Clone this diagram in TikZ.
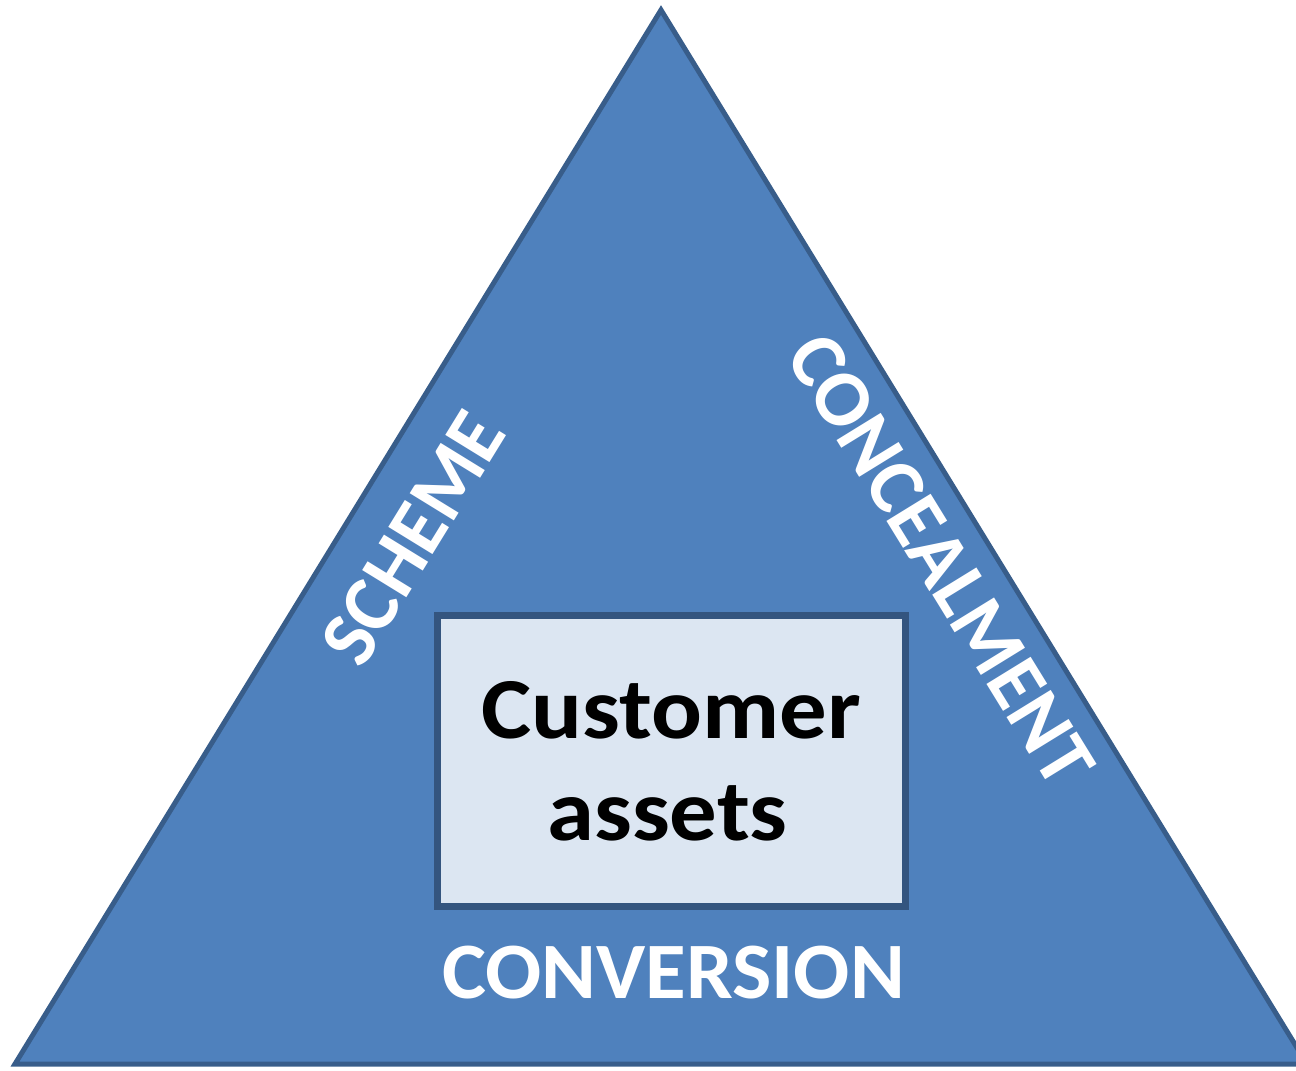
\documentclass[tikz,border=0pt]{standalone}
\usepackage{fontspec}
\setmainfont{Carlito}
\definecolor{trifill}{HTML}{4F81BD}
\definecolor{triedge}{HTML}{385D8A}
\definecolor{boxfill}{HTML}{DCE6F2}
\definecolor{boxedge}{HTML}{34557F}
\tikzset{
  sidelabel/.style={text=white, font=\fontsize{80}{96}\selectfont\bfseries, inner sep=0pt},
  boxtext/.style={text=black, font=\fontsize{87}{102}\selectfont\bfseries, inner sep=0pt, anchor=base, xscale=1.09},
  tri/.style={fill=trifill, draw=triedge, line width=5pt, line join=miter},
  assetbox/.style={fill=boxfill, draw=boxedge, line width=7pt, minimum width=468pt, minimum height=291pt, inner sep=0pt}
}
\begin{document}
\begin{tikzpicture}[x=1pt, y=-1pt]
\useasboundingbox (0,0) rectangle (1296,1071);
\clip (0,0) rectangle (1296,1071);
\coordinate (apex) at (661,10);
\coordinate (bl) at (15,1064);
\coordinate (br) at (1307,1064);
\draw[tri] (bl) -- (apex) -- (br) -- cycle;
\node[assetbox] (box) at (671,760.5) {};
\node[boxtext] (cust) at (671.5,738) {Customer};
\node[boxtext] (assets) at (667.5,840) {assets};
\node[sidelabel, rotate=58.4] (scheme) at (413,538) {SCHEME};
\node[sidelabel, rotate=-58.4] (conceal) at (941,560) {CONCEALMENT};
\node[sidelabel, anchor=base, xscale=1.04] (conv) at (673.5,998) {CONVERSION};
\end{tikzpicture}
\end{document}
